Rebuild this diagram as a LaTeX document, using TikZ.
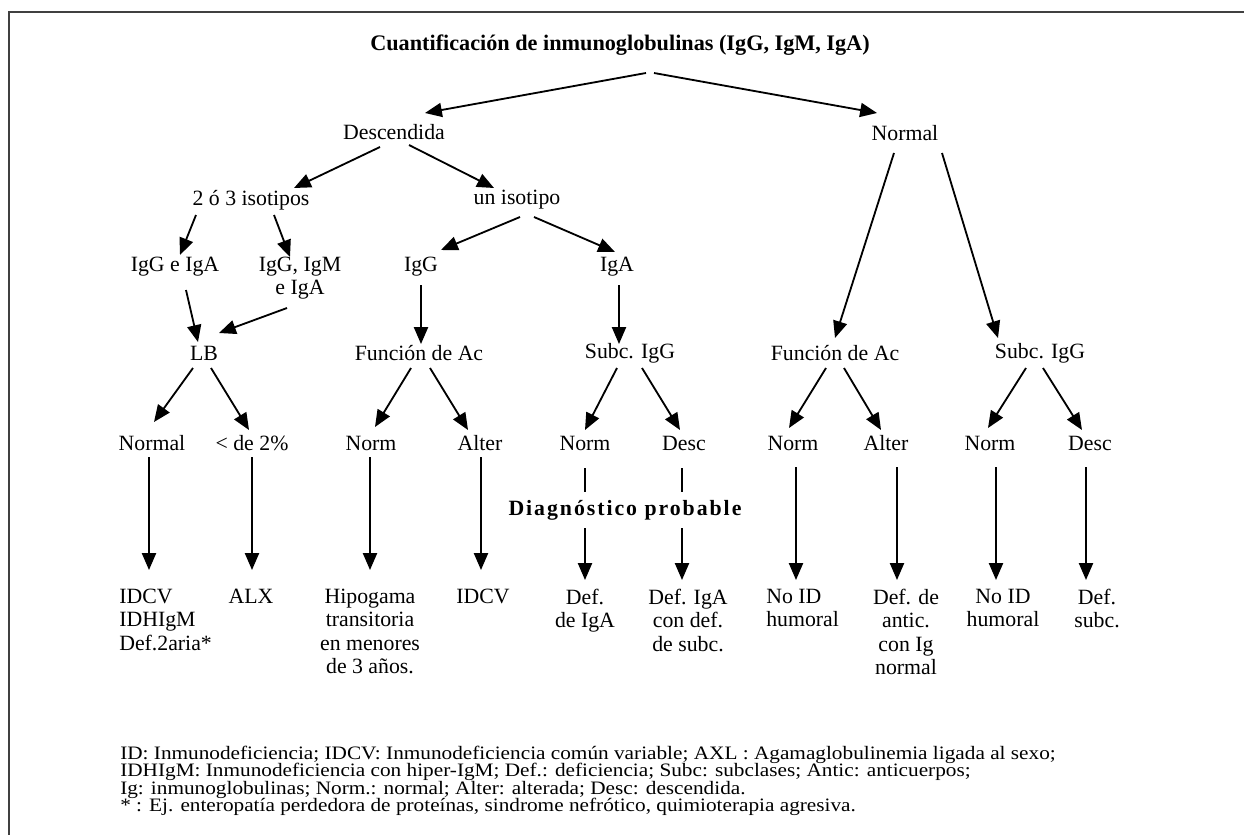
\documentclass[tikz,border=0pt]{standalone}
\usepackage{fontspec}
\setmainfont{Liberation Serif}
\newfontfamily\legendfont[FakeStretch=1.12]{Liberation Serif}
\usetikzlibrary{arrows.meta,calc}

\tikzset{
	lbl/.style={inner sep=2pt, align=center, font=\fontsize{15.5}{16.5}\selectfont},
	leaf/.style={inner sep=0pt, anchor=north, align=center, font=\fontsize{15.5}{16.5}\selectfont},
	legline/.style={inner sep=0pt, anchor=base west, font=\legendfont\fontsize{13.5}{12.4}\selectfont},
	arr/.style={line width=1.3pt, -{Triangle[length=12pt,width=10pt]}},
	tie/.style={line width=1.3pt},
}

\begin{document}
\begin{tikzpicture}[x=0.025cm,y=-0.025cm]
	\useasboundingbox (0,0) rectangle (1244,835);

	% frame
	\draw[line width=1.4pt,black!75] (9,835) -- (9,12) -- (1244,12);

	% title
	\node[lbl,font=\bfseries\fontsize{15.8}{17}\selectfont] (title) at (620,45) {Cuantificación de inmunoglobulinas (IgG, IgM, IgA)};

	% first levels
	\node[lbl] (desc) at (394,132) {Descendida};
	\node[lbl] (normal) at (905,133) {Normal};
	\node[lbl] (iso23) at (251,200) {2 ó 3 isotipos};
	\node[lbl] (uniso) at (517,200) {un isotipo};
	\node[lbl] (igge) at (175,267) {IgG e IgA};
	\node[lbl] (iggm) at (300,278) {IgG, IgM\\e IgA};
	\node[lbl] (igg) at (421,267) {IgG};
	\node[lbl] (iga) at (617,267) {IgA};

	% tests
	\node[lbl] (lb) at (204,353) {LB};
	\node[lbl] (func1) at (419,353) {Función de Ac};
	\node[lbl] (subc1) at (630,353) {Subc. IgG};
	\node[lbl] (func2) at (835,353) {Función de Ac};
	\node[lbl] (subc2) at (1040,353) {Subc. IgG};

	% results
	\node[lbl] (nrm1) at (152,443) {Normal};
	\node[lbl] (lt2) at (252,443) {< de 2\%};
	\node[lbl] (norm1) at (371,443) {Norm};
	\node[lbl] (alter1) at (480,443) {Alter};
	\node[lbl] (norm2) at (585,443) {Norm};
	\node[lbl] (desc2) at (684,443) {Desc};
	\node[lbl] (norm3) at (793,443) {Norm};
	\node[lbl] (alter2) at (886,443) {Alter};
	\node[lbl] (norm4) at (990,443) {Norm};
	\node[lbl] (desc3) at (1090,443) {Desc};

	\node[lbl,font=\bfseries\fontsize{15.5}{16.5}\selectfont\addfontfeature{LetterSpace=9}] (diag) at (625,510) {Diagnóstico probable};

	% diagnoses
	\node[leaf,anchor=north west,align=left] (lf1) at (119,589) {IDCV\\IDHIgM\\Def.2aria*};
	\node[leaf] (lf2) at (251,589) {ALX};
	\node[leaf] (lf3) at (370,589) {Hipogama\\transitoria\\en menores\\de 3 años.};
	\node[leaf] (lf4) at (483,589) {IDCV};
	\node[leaf] (lf5) at (585,589) {Def.\\de IgA};
	\node[leaf] (lf6) at (688,589) {Def. IgA\\con def.\\de subc.};
	\node[leaf,anchor=north west,align=left] (lf7) at (766,589) {No ID\\humoral};
	\node[leaf] (lf8) at (906,589) {Def. de\\antic.\\con Ig\\normal};
	\node[leaf] (lf9) at (1003,589) {No ID\\humoral};
	\node[leaf] (lf10) at (1097,589) {Def.\\subc.};

	% legend
	\node[legline] (leg1) at (120,759) {ID: Inmunodeficiencia; IDCV: Inmunodeficiencia común variable; AXL : Agamaglobulinemia ligada al sexo;};
	\node[legline] (leg2) at (120,776.5) {IDHIgM: Inmunodeficiencia con hiper-IgM; Def.: deficiencia; Subc: subclases; Antic: anticuerpos;};
	\node[legline] (leg3) at (120,794) {Ig: inmunoglobulinas; Norm.: normal; Alter: alterada; Desc: descendida.};
	\node[legline] (leg4) at (120,811.5) {* : Ej. enteropatía perdedora de proteínas, sindrome nefrótico, quimioterapia agresiva.};

	% title split
	\draw[arr] ($(title)+(26,28)$) -- ($(desc)+(31,-19)$);
	\draw[arr] ($(title)+(34,28)$) -- ($(normal)+(-28,-20)$);

	% descendida
	\draw[arr] ($(desc)+(-14,15)$) -- ($(iso23)+(43,-12)$);
	\draw[arr] ($(desc)+(15,13)$) -- ($(uniso)+(-23,-12)$);
	\draw[arr] ($(iso23)+(-55,15)$) -- ($(igge)+(5,-12)$);
	\draw[arr] ($(iso23)+(23,15)$) -- ($(iggm)+(-10,-21)$);
	\draw[arr] ($(uniso)+(3,17)$) -- ($(igg)+(20,-17)$);
	\draw[arr] ($(uniso)+(17,17)$) -- ($(iga)+(-2,-15)$);
	\draw[arr] ($(igge)+(11,23)$) -- ($(lb)+(-6,-11)$);
	\draw[arr] ($(iggm)+(-13,30)$) -- ($(lb)+(15,-20)$);
	\draw[arr] ($(igg)+(0,18)$) -- ($(func1)+(2,-9)$);
	\draw[arr] ($(iga)+(2,18)$) -- ($(subc1)+(-11,-9)$);

	% normal
	\draw[arr] ($(normal)+(-11,20)$) -- ($(func2)+(0,-15)$);
	\draw[arr] ($(normal)+(37,20)$) -- ($(subc2)+(-42,-15)$);

	% tests to results
	\draw[arr] ($(lb)+(-11,15)$) -- ($(nrm1)+(2,-21)$);
	\draw[arr] ($(lb)+(7,15)$) -- ($(lt2)+(-3,-13)$);
	\draw[arr] ($(func1)+(-8,15)$) -- ($(norm1)+(4,-16)$);
	\draw[arr] ($(func1)+(11,15)$) -- ($(alter1)+(-12,-13)$);
	\draw[arr] ($(subc1)+(-13,15)$) -- ($(norm2)+(0,-13)$);
	\draw[arr] ($(subc1)+(12,15)$) -- ($(desc2)+(-4,-13)$);
	\draw[arr] ($(func2)+(-9,15)$) -- ($(norm3)+(-4,-15)$);
	\draw[arr] ($(func2)+(9,15)$) -- ($(alter2)+(-5,-13)$);
	\draw[arr] ($(subc2)+(-14,15)$) -- ($(norm4)+(-2,-15)$);
	\draw[arr] ($(subc2)+(3,15)$) -- ($(desc3)+(-8,-13)$);

	% results to diagnoses
	\draw[arr] ($(nrm1)+(-3,14)$) -- ($(lf1.north west)+(30,-19)$);
	\draw[arr] ($(lt2)+(0,14)$) -- ($(lf2.north)+(1,-19)$);
	\draw[arr] ($(norm1)+(-1,14)$) -- ($(lf3.north)+(0,-19)$);
	\draw[arr] ($(alter1)+(1,14)$) -- ($(lf4.north)+(-2,-19)$);
	\draw[tie] ($(norm2)+(0,25)$) -- ($(diag)+(-40,-18)$);
	\draw[arr] ($(diag)+(-40,18)$) -- ($(lf5.north)+(0,-9)$);
	\draw[tie] ($(desc2)+(-2,25)$) -- ($(diag)+(57,-18)$);
	\draw[arr] ($(diag)+(57,18)$) -- ($(lf6.north)+(-6,-9)$);
	\draw[arr] ($(norm3)+(3,24)$) -- ($(lf7.north west)+(30,-9)$);
	\draw[arr] ($(alter2)+(11,24)$) -- ($(lf8.north)+(-9,-9)$);
	\draw[arr] ($(norm4)+(6,24)$) -- ($(lf9.north)+(-7,-9)$);
	\draw[arr] ($(desc3)+(-4,24)$) -- ($(lf10.north)+(-11,-9)$);
\end{tikzpicture}
\end{document}
